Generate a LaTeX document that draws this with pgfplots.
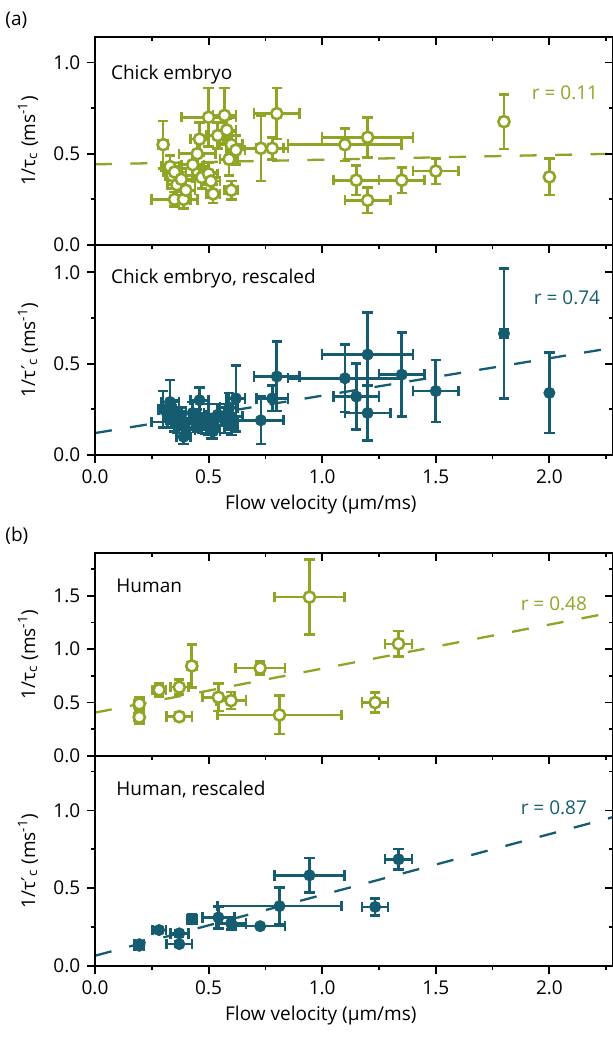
\documentclass[border=0pt]{standalone}
\usepackage{pgfplots}
\pgfplotsset{compat=1.18}
\usepackage{pgfplotstable}
\usepackage{fontspec}
\setmainfont{Open Sans}
\newfontfamily\symfont{DejaVu Sans}

\definecolor{chickgreen}{RGB}{143,165,38}
\definecolor{scaledteal}{RGB}{22,92,112}

% Chick embryo: x, x error, 1/tau_c, error
\pgfplotstableread{
x ex y ey
0.30 0.02 0.55 0.13
0.33 0.04 0.43 0.06
0.34 0.03 0.38 0.07
0.35 0.05 0.40 0.05
0.36 0.04 0.33 0.06
0.35 0.10 0.25 0.04
0.39 0.03 0.25 0.05
0.40 0.04 0.30 0.05
0.38 0.06 0.36 0.06
0.43 0.05 0.44 0.06
0.45 0.08 0.50 0.08
0.46 0.04 0.58 0.09
0.47 0.04 0.37 0.06
0.50 0.12 0.70 0.16
0.50 0.04 0.39 0.06
0.51 0.04 0.35 0.05
0.52 0.03 0.28 0.05
0.54 0.05 0.60 0.07
0.57 0.05 0.71 0.15
0.58 0.04 0.63 0.06
0.59 0.04 0.47 0.09
0.60 0.03 0.30 0.05
0.60 0.05 0.55 0.07
0.62 0.04 0.52 0.08
0.73 0.10 0.53 0.18
0.78 0.07 0.53 0.06
0.80 0.10 0.72 0.14
1.10 0.25 0.55 0.09
1.20 0.20 0.59 0.11
1.15 0.10 0.355 0.08
1.20 0.10 0.245 0.07
1.35 0.10 0.355 0.07
1.50 0.10 0.405 0.07
1.80 0.015 0.676 0.15
2.00 0.00 0.373 0.10
}\chickraw

% Chick embryo, rescaled: x, x error, 1/tau'_c, error
\pgfplotstableread{
x ex y ey
0.30 0.02 0.25 0.10
0.33 0.04 0.29 0.12
0.34 0.03 0.21 0.06
0.35 0.05 0.24 0.06
0.36 0.04 0.17 0.05
0.35 0.10 0.18 0.05
0.39 0.03 0.10 0.04
0.40 0.04 0.14 0.05
0.38 0.06 0.20 0.06
0.43 0.05 0.23 0.06
0.45 0.08 0.19 0.06
0.46 0.04 0.30 0.07
0.47 0.04 0.17 0.05
0.50 0.12 0.20 0.08
0.50 0.04 0.16 0.05
0.51 0.04 0.14 0.05
0.52 0.03 0.13 0.04
0.54 0.05 0.22 0.06
0.57 0.05 0.19 0.07
0.58 0.04 0.22 0.06
0.59 0.04 0.26 0.08
0.60 0.03 0.16 0.05
0.60 0.05 0.21 0.07
0.62 0.04 0.31 0.18
0.73 0.10 0.19 0.13
0.78 0.07 0.31 0.07
0.80 0.10 0.43 0.19
1.10 0.25 0.42 0.185
1.20 0.20 0.55 0.23
1.15 0.10 0.32 0.18
1.20 0.10 0.23 0.15
1.35 0.10 0.44 0.23
1.50 0.10 0.35 0.17
1.80 0.015 0.665 0.357
2.00 0.00 0.34 0.22
}\chickscaled

% Human
\pgfplotstableread{
x ex y ey
0.195 0.02 0.487 0.06
0.195 0.02 0.363 0.06
0.282 0.03 0.619 0.06
0.371 0.04 0.644 0.07
0.371 0.056 0.368 0.04
0.426 0.02 0.843 0.20
0.543 0.07 0.55 0.13
0.599 0.066 0.518 0.08
0.727 0.109 0.822 0.06
0.812 0.272 0.384 0.18
0.944 0.153 1.487 0.35
1.336 0.06 1.05 0.12
1.233 0.057 0.50 0.095
}\humanraw

% Human, rescaled
\pgfplotstableread{
x ex y ey
0.195 0.02 0.14 0.02
0.195 0.02 0.13 0.02
0.282 0.03 0.231 0.02
0.371 0.04 0.21 0.02
0.371 0.056 0.141 0.02
0.426 0.02 0.30 0.03
0.543 0.07 0.312 0.07
0.599 0.066 0.274 0.04
0.727 0.109 0.256 0.01
0.812 0.272 0.385 0.12
0.944 0.153 0.583 0.11
1.336 0.06 0.686 0.065
1.233 0.057 0.38 0.055
}\humanscaled

\pgfplotsset{
  base/.style={
    scale only axis, width=259pt, xmin=0, xmax=2.28, ymin=0,
    axis line style={line width=1pt, black},
    xtick={0,0.5,1,1.5,2}, minor xtick={0.25,0.75,1.25,1.75,2.25},
    major tick length=4pt, minor tick length=2.2pt,
    every tick/.append style={line width=0.9pt, black},
    /pgf/number format/fixed,
    /pgf/number format/fixed zerofill,
    /pgf/number format/precision=1,
    /pgf/number format/assume math mode=true,
    ylabel style={at={(axis description cs:-0.1293,0.5)}, anchor=center},
    xlabel style={at={(axis description cs:0.436,0)}, anchor=center, yshift=-25pt},
  },
  outer/.style={base, tick align=outside, xtick pos=left, ytick pos=left},
  inner/.style={base, tick align=inside, xtick pos=right, ytick pos=right,
    xticklabels={}, yticklabels={}},
  % panel geometry
  pA1/.style={at={(47.5pt,396pt)}, anchor=south west, height=104pt, ymax=1.14,
    ytick={0,0.5,1}, minor ytick={0.25,0.75}},
  pA2/.style={at={(47.5pt,291pt)}, anchor=south west, height=105pt, ymax=1.15,
    ytick={0,0.5,1}, minor ytick={0.25,0.75}},
  pB1/.style={at={(47.5pt,140.5pt)}, anchor=south west, height=101.5pt, ymax=1.9,
    ytick={0,0.5,1,1.5}, minor ytick={0.25,0.75,1.25,1.75}},
  pB2/.style={at={(47.5pt,35.5pt)}, anchor=south west, height=105pt, ymax=1.35,
    ytick={0,0.5,1}, minor ytick={0.25,0.75,1.25}},
  fit/.style={line width=1.15pt, dash pattern=on 8.5pt off 9.2pt},
  errs/.style={only marks, mark=*, mark size=2.8pt,
    error bars/x dir=both, error bars/x explicit,
    error bars/y dir=both, error bars/y explicit,
    error bars/error bar style={line width=1.3pt},
    error bars/error mark=-,
    error bars/error mark options={rotate=90, line width=1.3pt, mark size=2.6pt}},
  openpt/.style={errs, color=#1, mark options={draw=#1, fill=white, line width=1.3pt}},
  fullpt/.style={errs, color=#1, mark options={draw=#1, fill=#1, line width=0.4pt}},
}

\newcommand{\tauc}{1/τ\textsubscript{c} (ms\textsuperscript{-1})}
\newcommand{\tauscaled}{1/τ{\symfont\kern0.3pt′}\textsubscript{c} (ms\textsuperscript{-1})}

\begin{document}
\fontsize{9.5}{11.4}\selectfont
\begin{tikzpicture}[font=\fontsize{9.5}{11.4}\selectfont]
\useasboundingbox (0,0) rectangle (306.5pt,518.5pt);

\node[anchor=west, inner sep=0pt] at (2.5pt,508.5pt) {(a)};
\node[anchor=west, inner sep=0pt] at (2.5pt,250.5pt) {(b)};

% (a) chick embryo
\begin{axis}[outer, pA1, xticklabels={}, ylabel={\tauc}]
  \addplot[chickgreen, fit] coordinates {(0,0.442) (2.28,0.500)};
  \addplot[openpt=chickgreen] table[x=x, y=y, x error=ex, y error=ey] {\chickraw};
  \node[anchor=base west, inner sep=0pt] at (axis cs:0.069,0.908) {Chick embryo};
  \node[anchor=base east, inner sep=0pt, text=chickgreen] at (axis cs:2.216,0.798) {r = 0.11};
\end{axis}
\begin{axis}[inner, pA1]
\end{axis}

\begin{axis}[outer, pA2, ylabel={\tauscaled}, xlabel={Flow velocity (µm/ms)}]
  \addplot[scaledteal, fit] coordinates {(0,0.12) (2.28,0.587)};
  \addplot[fullpt=scaledteal] table[x=x, y=y, x error=ex, y error=ey] {\chickscaled};
  \node[anchor=base west, inner sep=0pt] at (axis cs:0.069,0.94) {Chick embryo, rescaled};
  \node[anchor=base east, inner sep=0pt, text=scaledteal] at (axis cs:2.225,0.825) {r = 0.74};
\end{axis}
\begin{axis}[inner, pA2]
\end{axis}

% (b) human
\begin{axis}[outer, pB1, xticklabels={}, ylabel={\tauc}]
  \addplot[chickgreen, fit] coordinates {(0,0.406) (2.28,1.345)};
  \addplot[openpt=chickgreen] table[x=x, y=y, x error=ex, y error=ey] {\humanraw};
  \node[anchor=base west, inner sep=0pt] at (axis cs:0.0925,1.529) {Human};
  \node[anchor=base east, inner sep=0pt, text=chickgreen] at (axis cs:2.167,1.36) {r = 0.48};
\end{axis}
\begin{axis}[inner, pB1]
\end{axis}

\begin{axis}[outer, pB2, ylabel={\tauscaled}, xlabel={Flow velocity (µm/ms)}]
  \addplot[scaledteal, fit] coordinates {(0,0.066) (2.28,0.957)};
  \addplot[fullpt=scaledteal] table[x=x, y=y, x error=ex, y error=ey] {\humanscaled};
  \node[anchor=base west, inner sep=0pt] at (axis cs:0.0925,1.099) {Human, rescaled};
  \node[anchor=base east, inner sep=0pt, text=scaledteal] at (axis cs:2.167,0.977) {r = 0.87};
\end{axis}
\begin{axis}[inner, pB2]
\end{axis}
\end{tikzpicture}
\end{document}
